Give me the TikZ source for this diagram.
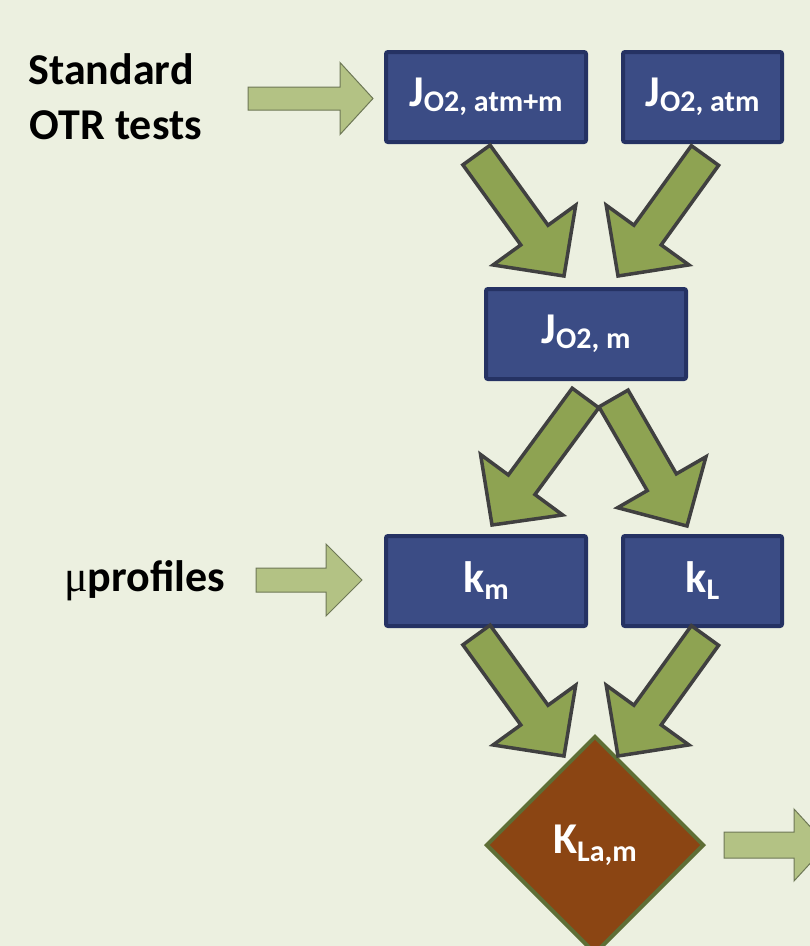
\documentclass[tikz,border=0pt]{standalone}
\usepackage{fontspec}
\setmainfont{Carlito}
\newfontfamily\mufont{Liberation Serif}
\usetikzlibrary{calc,shapes.geometric}
\definecolor{bg}{HTML}{ECF0E0}
\definecolor{boxfill}{HTML}{3B4C85}
\definecolor{boxline}{HTML}{253263}
\definecolor{arrfill}{HTML}{8EA352}
\definecolor{arrline}{HTML}{404040}
\definecolor{harrfill}{HTML}{B3C284}
\definecolor{harrline}{HTML}{6E7856}
\definecolor{dmfill}{HTML}{8B4513}
\definecolor{dmline}{HTML}{5E6E35}
% #1 style, #2 tail, #3 tip, #4 half shaft width, #5 half head width, #6 head length
\newcommand\blockarrow[6]{%
  \draw[#1] let \p1=($(#3)-(#2)$), \n1={atan2(\y1,\x1)}, \n2={veclen(\x1,\y1)} in
    [shift={(#2)}, rotate=\n1]
    (0pt,#4pt) -- ({\n2-#6pt},#4pt) -- ({\n2-#6pt},#5pt) -- (\n2,0pt)
    -- ({\n2-#6pt},-#5pt) -- ({\n2-#6pt},-#4pt) -- (0pt,-#4pt) -- cycle;}
\newcommand\boxlbl[3]{{\fontsize{44}{44}\selectfont #1\raisebox{-#3pt}{\fontsize{30}{30}\selectfont #2}}}
\begin{document}
\begin{tikzpicture}[x=1pt,y=-1pt,
  box/.style={draw=boxline, fill=boxfill, line width=4pt, rounded corners=2pt,
    minimum height=90pt, text=white, font=\bfseries, inner sep=0pt},
  bigarrow/.style={draw=arrline, fill=arrfill, line width=3.5pt, line join=miter},
  sidearrow/.style={draw=harrline, fill=harrfill, line width=1pt},
  sidelabel/.style={anchor=base, font=\bfseries\fontsize{44}{44}\selectfont, inner sep=0pt}]
\fill[bg] (0,0) rectangle (810,946);
\useasboundingbox (0,0) rectangle (810,946);
\clip (0,0) rectangle (810,946);

% boxes
\node[box, minimum width=200pt] (atmm) at (486,97) {\boxlbl{J}{O2, atm+m}{5}};
\node[box, minimum width=159pt] (atm) at (702.5,97) {\boxlbl{J}{O2, atm}{5}};
\node[box, minimum width=200pt] (jm) at (586,334) {\boxlbl{J}{O2, m}{5}};
\node[box, minimum width=200pt] (km) at (486,581) {\boxlbl{k}{m}{7}};
\node[box, minimum width=159pt] (kl) at (702.5,581) {\boxlbl{k}{L}{7}};
\node[diamond, aspect=1, draw=dmline, fill=dmfill, line width=4pt,
  minimum width=218pt, minimum height=218pt, inner sep=0pt, text=white, font=\bfseries]
  (kla) at (595,845) {\boxlbl{K}{La,m}{8}};

% side labels
\node[sidelabel] (std1) at (111,84) {Standard};
\node[sidelabel] (std2) at (116,139) {OTR tests};
\node[sidelabel] (prof) at (144.5,591) {{\mdseries\mufont μ}profiles};

% arrow end points
\coordinate (h1t) at (248,98.5);  \coordinate (h1h) at (373,98.5);
\coordinate (h2t) at (256,580);   \coordinate (h2h) at (362,580);
\coordinate (h3t) at (724,845);   \coordinate (h3h) at (827,845);
\coordinate (at) at (476.5,155);  \coordinate (ah) at (564,276);
\coordinate (bt) at (705,155.5);  \coordinate (bh) at (618,276);
\coordinate (ct) at (585.5,398);  \coordinate (ch) at (492,525);
\coordinate (dt) at (613.5,398.5);\coordinate (dh) at (687,526);
\coordinate (et) at (476.5,635);  \coordinate (eh) at (564,756);
\coordinate (ft) at (705,635.5);  \coordinate (fh) at (618,756);

% side arrows
\blockarrow{sidearrow}{h1t}{h1h}{11.5}{36}{33}
\blockarrow{sidearrow}{h2t}{h2h}{12}{36}{36}
\blockarrow{sidearrow}{h3t}{h3h}{13}{36}{33}

% big arrows
\blockarrow{bigarrow}{at}{ah}{16.8}{51}{50.5}
\blockarrow{bigarrow}{bt}{bh}{16.8}{51}{50.5}
\blockarrow{bigarrow}{ct}{ch}{16.5}{51}{50}
\blockarrow{bigarrow}{dt}{dh}{16.8}{51}{50.5}
\blockarrow{bigarrow}{et}{eh}{16.8}{51}{50.5}
\blockarrow{bigarrow}{ft}{fh}{16.8}{51}{50.5}
\end{tikzpicture}
\end{document}
